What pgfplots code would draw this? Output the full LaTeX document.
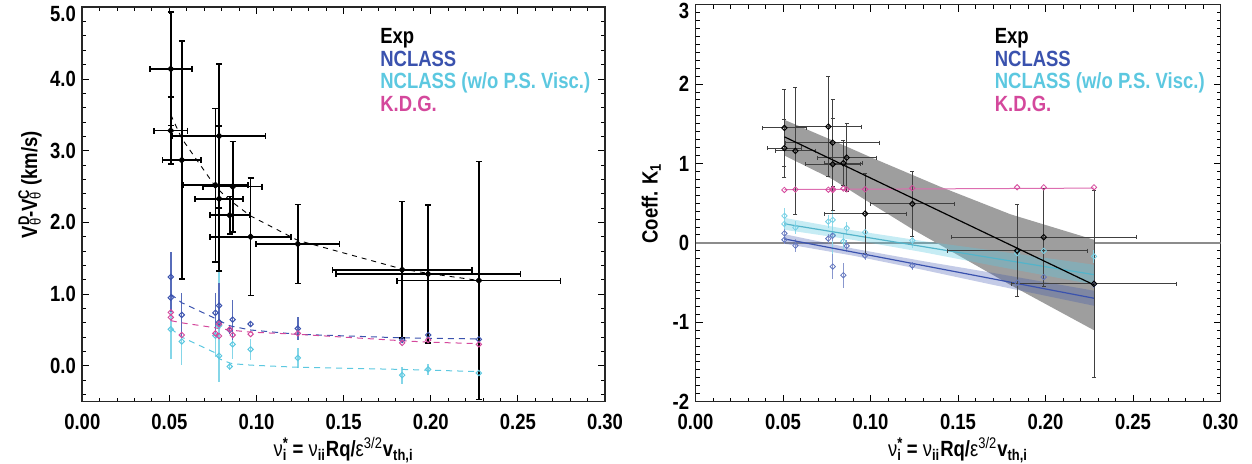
\documentclass[border=0pt]{standalone}
\usepackage{fontspec}
\setmainfont{Liberation Sans}[FakeStretch=0.84]
\usepackage{pgfplots}
\usepackage{pgfplotstable}
\pgfplotsset{compat=1.18}

\definecolor{ncl}{HTML}{3A52AE}
\definecolor{ncw}{HTML}{5CC8E0}
\definecolor{kdg}{HTML}{D4489C}

\newcommand\supsub[3]{#1\rlap{\textsuperscript{#2}}\textsubscript{#3}}
\newcommand\lbl{\fontsize{11}{13}\selectfont\bfseries}
\newcommand\low[1]{\raisebox{-3.2pt}[\height][\depth]{#1}}

% left panel: x y ex ey
\pgfplotstableread{
x y ex ey
0.0508 4.14 0.0120 0.79
0.0508 3.28 0.0095 0.47
0.0571 2.87 0.0110 1.66
0.0785 3.205 0.0267 1.00
0.0764 2.52 0.0188 1.07
0.0785 2.33 0.0137 1.01
0.0863 2.50 0.0169 0.63
0.0846 2.10 0.0113 0.26
0.0966 1.80 0.0232 0.82
0.1237 1.70 0.0239 0.55
0.1836 1.34 0.0400 0.95
0.1985 1.28 0.0530 0.96
0.2276 1.19 0.0469 1.66
}\expL
% fits at the data points: x exp ncl kdg ncw
\pgfplotstableread{
x e n k w
0.0508 3.50 1.00 0.63 0.52
0.0571 3.17 0.88 0.60 0.40
0.0764 2.50 0.66 0.53 0.18
0.0785 2.45 0.63 0.52 0.10
0.0846 2.31 0.56 0.50 0.04
0.0863 2.28 0.55 0.495 0.03
0.0966 2.09 0.50 0.47 0.01
0.1237 1.75 0.44 0.44 -0.02
0.1836 1.35 0.39 0.35 -0.05
0.1985 1.29 0.385 0.33 -0.06
0.2276 1.19 0.375 0.31 -0.08
}\fitL
\pgfplotstableread{
x y ey
0.0508 1.24 0.35
0.0508 0.95 0.20
0.0571 0.71 0.31
0.0764 0.74 0.28
0.0785 0.84 0.31
0.0785 0.61 0.10
0.0846 0.50 0.05
0.0863 0.645 0.28
0.0966 0.583 0.03
0.1237 0.52 0.16
0.1836 0.36 0.03
0.1985 0.43 0.03
0.2276 0.37 0.03
}\nclL
\pgfplotstableread{
x y
0.0508 0.746
0.0508 0.676
0.0571 0.43
0.0764 0.453
0.0785 0.583
0.0785 0.416
0.0846 0.509
0.0863 0.43
0.0966 0.443
0.1237 0.453
0.1836 0.32
0.1985 0.36
0.2276 0.30
}\kdgL
\pgfplotstableread{
x y ey
0.0508 0.51 0.41
0.0571 0.34 0.33
0.0764 0.42 0.30
0.0785 0.14 0.30
0.0785 0.56 0.78
0.0846 -0.01 0.05
0.0863 0.30 0.21
0.0966 0.23 0.15
0.1237 0.11 0.14
0.1836 -0.13 0.12
0.1985 -0.05 0.08
0.2276 -0.10 0.27
}\ncwL

% right panel
\pgfplotstableread{
x y ex ey
0.0508 1.448 0.0124 0.48
0.0508 1.193 0.0098 0.365
0.0571 1.159 0.0112 0.80
0.0759 1.465 0.0190 0.63
0.0784 1.263 0.0269 0.547
0.0784 0.991 0.0157 0.58
0.0864 1.074 0.0170 0.43
0.0845 1.003 0.0107 0.285
0.0969 0.369 0.0235 0.50
0.1239 0.491 0.0242 0.41
0.1838 -0.097 0.0400 0.58
0.1990 0.072 0.0530 0.62
0.2277 -0.516 0.0470 1.18
}\expR
\pgfplotstableread{
x y ey
0.0508 0.12 0.05
0.0508 0.04 0.05
0.0571 -0.034 0.08
0.0759 0.054 0.06
0.0784 0.09 0.06
0.0784 -0.298 0.16
0.0845 -0.407 0.16
0.0864 -0.038 0.08
0.0969 -0.16 0.06
0.1239 -0.286 0.05
0.1838 -0.50 0.05
0.1990 -0.43 0.05
0.2277 -0.52 0.05
}\nclR
\pgfplotstableread{
x y ey
0.0508 0.34 0.10
0.0508 0.239 0.08
0.0571 0.193 0.08
0.0759 0.268 0.08
0.0784 0.29 0.15
0.0784 0.10 0.33
0.0845 0.02 0.10
0.0864 0.185 0.08
0.0969 0.135 0.08
0.1239 0.03 0.10
0.1838 -0.13 0.08
0.1990 -0.10 0.08
0.2277 -0.17 0.08
}\ncwR
\pgfplotstableread{
x y
0.0508 0.667
0.0571 0.672
0.0759 0.670
0.0784 0.680
0.0784 0.665
0.0845 0.685
0.0864 0.675
0.0969 0.675
0.1239 0.690
0.1838 0.700
0.1990 0.700
0.2277 0.700
}\kdgR

\pgfplotsset{
  idl/.style={
    scale only axis,
    anchor=south west,
    xmin=0, xmax=0.30,
    xtick={0,0.05,0.10,0.15,0.20,0.25,0.30},
    xticklabels={0.00,0.05,0.10,0.15,0.20,0.25,0.30},
    minor x tick num=4,
    tick align=inside,
    major tick length=3.5pt,
    minor tick length=2pt,
    every tick/.style={black, line width=0.5pt},
    axis line style={line width=0.8pt, black!85},
    ticklabel style={font=\lbl},
    xticklabel style={anchor=base, yshift=-14.15pt},
    yticklabel style={anchor=east, inner sep=0pt, xshift=-3pt},
    label style={font=\lbl},
    xlabel style={at={(axis description cs:0.5,0)}, anchor=base, yshift=-27.6pt},
    xlabel={{\mdseries ν}\rlap{\textsuperscript{*}}\textsubscript{i} = {\mdseries ν}\textsubscript{ii}Rq/{\mdseries ε}\textsuperscript{\mdseries 3/2}v\textsubscript{th,i}},
  },
  eb/.style={error bars/.cd, x dir=both, x explicit, y dir=both, y explicit},
}

\begin{document}
\begin{tikzpicture}
\path[use as bounding box] (0,0) rectangle (626pt,232pt);

% ---------- left ----------
\begin{axis}[idl,
  at={(41.15pt,31.15pt)}, width=261.35pt, height=197.2pt,
  ymin=-0.5, ymax=5,
  ytick={0,1,2,3,4,5},
  yticklabels={0.0,1.0,2.0,3.0,4.0,\low{5.0}},
  minor ytick={-0.4,-0.2,0.2,0.4,0.6,0.8,1.2,1.4,1.6,1.8,2.2,2.4,2.6,2.8,3.2,3.4,3.6,3.8,4.2,4.4,4.6,4.8},
  ylabel style={at={([xshift=-22.6pt]axis description cs:0,0.55)}, anchor=base},
  ylabel={\supsub{V}{D}{\mdseries θ}-\supsub{V}{C}{\mdseries θ} (km/s)},
]
% model error bars and points
\addplot[ncw!75, only marks, mark=square, mark size=0.95pt, mark options={rotate=45, ncw, line width=0.5pt},
  error bars/.cd, y dir=both, y explicit, error mark=none, error bar style={line width=0.7pt, ncw!75}]
  table[x=x, y=y, y error=ey] {\ncwL};
\addplot[ncl, only marks, mark=square, mark size=0.95pt, mark options={rotate=45, ncl, line width=0.5pt},
  error bars/.cd, y dir=both, y explicit, error mark=none, error bar style={line width=0.7pt, ncl!85}]
  table[x=x, y=y, y error=ey] {\nclL};
\addplot[kdg, only marks, mark=square, mark size=0.95pt, mark options={rotate=45, kdg, line width=0.5pt}]
  table[x=x, y=y] {\kdgL};
% dashed fits
\addplot[ncw, line width=0.5pt, dash pattern=on 3pt off 2.5pt] table[x=x, y=w] {\fitL};
\addplot[ncl, line width=0.5pt, dash pattern=on 3pt off 2.5pt] table[x=x, y=n] {\fitL};
\addplot[kdg, line width=0.5pt, dash pattern=on 3pt off 2.5pt] table[x=x, y=k] {\fitL};
% experiment
\addplot[black, only marks, mark=square*, mark size=1.05pt, mark options={rotate=45, black},
  eb, error bar style={line width=0.85pt, black},
  error mark options={rotate=90, black, mark size=1.5pt, line width=0.85pt}]
  table[x=x, y=y, x error=ex, y error=ey] {\expL};
\addplot[black, line width=0.45pt, dash pattern=on 2.5pt off 2.5pt] table[x=x, y=e] {\fitL};

\node[anchor=base west, font=\lbl, text=black] at (axis description cs:0.5567,0.9087) {Exp};
\node[anchor=base west, font=\lbl, text=ncl] at (axis description cs:0.5567,0.8509) {NCLASS};
\node[anchor=base west, font=\lbl, text=ncw] at (axis description cs:0.5567,0.7931) {NCLASS (w/o P.S. Visc.)};
\node[anchor=base west, font=\lbl, text=kdg] at (axis description cs:0.5567,0.7353) {K.D.G.};
\end{axis}

% ---------- right ----------
\begin{axis}[idl,
  at={(347.75pt,31.15pt)}, width=262.5pt, height=198.5pt,
  ymin=-2, ymax=3,
  ytick={-2,-1,0,1,2,3},
  yticklabels={-2,-1,0,1,2,\low{3}},
  minor ytick={-1.9,-1.8,-1.7,-1.6,-1.5,-1.4,-1.3,-1.2,-1.1,-0.9,-0.8,-0.7,-0.6,-0.5,-0.4,-0.3,-0.2,-0.1,0.1,0.2,0.3,0.4,0.5,0.6,0.7,0.8,0.9,1.1,1.2,1.3,1.4,1.5,1.6,1.7,1.8,1.9,2.1,2.2,2.3,2.4,2.5,2.6,2.7,2.8,2.9},
  ylabel style={at={([xshift=-19pt]axis description cs:0,0.5)}, anchor=base},
  ylabel={Coeff. K\textsubscript{1}},
]
\addplot[black!45, line width=1.1pt] coordinates {(0,0) (0.30,0)};
% grey confidence band of the experimental fit
\addplot[fill=black!38, draw=none] coordinates {
(0.0508,1.55) (0.0784,1.29) (0.10,1.08) (0.1397,0.709) (0.18,0.36) (0.2277,0.04)
(0.2277,-1.10) (0.18,-0.53) (0.1397,-0.025) (0.1246,0.164) (0.10,0.50) (0.0784,0.80) (0.0508,1.10)} -- cycle;
\addplot[fill=ncw, fill opacity=0.35, draw=none] coordinates {
(0.0508,0.315) (0.09,0.158) (0.13,0.023) (0.17,-0.096) (0.2277,-0.275)
(0.2277,-0.525) (0.17,-0.286) (0.13,-0.117) (0.09,0.038) (0.0508,0.165)} -- cycle;
\addplot[fill=ncl, fill opacity=0.3, draw=none] coordinates {
(0.0508,0.11) (0.09,-0.0705) (0.13,-0.2294) (0.17,-0.3783) (0.2277,-0.602)
(0.2277,-0.792) (0.17,-0.5283) (0.13,-0.3394) (0.09,-0.1605) (0.0508,-0.01)} -- cycle;
% model points
\addplot[ncw!70, only marks, mark=square, mark size=0.95pt, mark options={rotate=45, ncw!85, line width=0.4pt},
  error bars/.cd, y dir=both, y explicit, error mark=none, error bar style={line width=0.5pt, ncw!70}]
  table[x=x, y=y, y error=ey] {\ncwR};
\addplot[ncl!70, only marks, mark=square, mark size=0.95pt, mark options={rotate=45, ncl!80, line width=0.4pt},
  error bars/.cd, y dir=both, y explicit, error mark=none, error bar style={line width=0.5pt, ncl!60}]
  table[x=x, y=y, y error=ey] {\nclR};
\addplot[kdg, only marks, mark=square, mark size=0.95pt, mark options={rotate=45, kdg, line width=0.4pt}]
  table[x=x, y=y] {\kdgR};
% fit lines
\addplot[kdg!80, line width=0.5pt] coordinates {(0.0508,0.672) (0.2277,0.690)};
\addplot[ncw!90!black, line width=0.6pt] coordinates {(0.0508,0.24) (0.2277,-0.40)};
\addplot[ncl, line width=0.6pt] coordinates {(0.0508,0.05) (0.2277,-0.697)};
% experiment
\addplot[black, only marks, mark=square, mark size=0.95pt, mark options={rotate=45, black, line width=0.5pt},
  eb, error bar style={line width=0.45pt, black!75},
  error mark options={rotate=90, black!75, mark size=1pt, line width=0.45pt}]
  table[x=x, y=y, x error=ex, y error=ey] {\expR};
\addplot[black, line width=0.6pt] coordinates {(0.0508,1.336) (0.2277,-0.529)};

\node[anchor=base west, font=\lbl, text=black] at (axis description cs:0.5567,0.9028) {Exp};
\node[anchor=base west, font=\lbl, text=ncl] at (axis description cs:0.5567,0.8453) {NCLASS};
\node[anchor=base west, font=\lbl, text=ncw] at (axis description cs:0.5567,0.7879) {NCLASS (w/o P.S. Visc.)};
\node[anchor=base west, font=\lbl, text=kdg] at (axis description cs:0.5567,0.7305) {K.D.G.};
\end{axis}
\end{tikzpicture}
\end{document}
